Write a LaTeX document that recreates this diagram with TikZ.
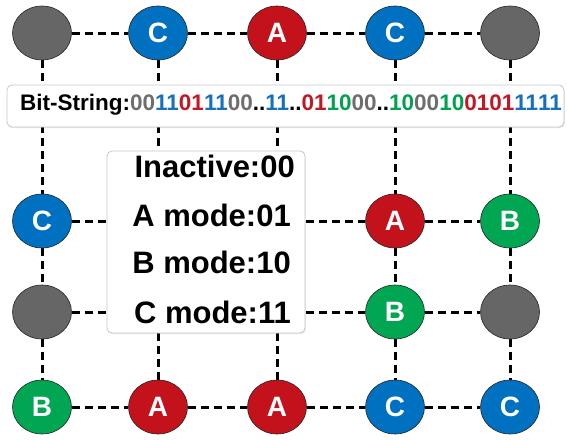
\documentclass[tikz,border=0pt]{standalone}
\usepackage{fontspec}
\setmainfont{Liberation Sans}
\usetikzlibrary{shapes.geometric,shadows}

\definecolor{modeGray}{RGB}{102,102,102}
\definecolor{modeBlue}{RGB}{0,112,192}
\definecolor{modeRed}{RGB}{196,18,28}
\definecolor{modeGreen}{RGB}{0,166,81}
\definecolor{bitGray}{RGB}{110,110,110}
\definecolor{bitBlue}{RGB}{22,112,188}
\definecolor{bitRed}{RGB}{192,24,36}
\definecolor{bitGreen}{RGB}{0,162,80}

\newcommand{\bitN}[1]{\textcolor{bitGray}{#1}}
\newcommand{\bitB}[1]{\textcolor{bitBlue}{#1}}
\newcommand{\bitR}[1]{\textcolor{bitRed}{#1}}
\newcommand{\bitG}[1]{\textcolor{bitGreen}{#1}}

\tikzset{
    BALL/.style={shape=ellipse, minimum width=59pt, minimum height=54pt,
        inner sep=0pt, draw=black!85, line width=0.6pt, text=white,
        font={\fontsize{28}{28}\selectfont\bfseries}},
    GRAY_BALL/.style={BALL, fill=modeGray},
    BLUE_BALL/.style={BALL, fill=modeBlue},
    RED_BALL/.style={BALL, fill=modeRed},
    GREEN_BALL/.style={BALL, fill=modeGreen},
    PANEL/.style={shape=rectangle, draw=black!22, fill=white, line width=0.8pt,
        rounded corners=5pt, inner sep=0pt,
        drop shadow={opacity=0.18, shadow xshift=0.8pt, shadow yshift=-1.2pt}},
    BITS/.style={inner sep=0pt, font={\fontsize{22.5}{22.5}\selectfont\bfseries}},
    LEGEND_LINE/.style={inner sep=0pt, anchor=east,
        font={\fontsize{31}{31}\selectfont\bfseries}},
    EDGE/.style={draw=black, line width=3pt, dash pattern=on 8pt off 5pt}
}
\pgfdeclarelayer{edgelayer}
\pgfdeclarelayer{nodelayer}
\pgfsetlayers{edgelayer,nodelayer,main}

\begin{document}
\begin{tikzpicture}[x=1pt, y=-1pt]
    \useasboundingbox (0, 0) rectangle (567, 439);
    \begin{pgfonlayer}{nodelayer}
        \node [GRAY_BALL] (1) at (42, 33) {};
        \node [BLUE_BALL] (2) at (158, 33) {C};
        \node [RED_BALL] (3) at (277, 33) {A};
        \node [BLUE_BALL] (4) at (395, 33) {C};
        \node [GRAY_BALL] (5) at (510, 33) {};
        \node [BLUE_BALL] (6) at (42, 221) {C};
        \node [RED_BALL] (7) at (395, 221) {A};
        \node [GREEN_BALL] (8) at (510, 221) {B};
        \node [GRAY_BALL] (9) at (42, 312) {};
        \node [GREEN_BALL] (10) at (395, 312) {B};
        \node [GRAY_BALL] (11) at (510, 312) {};
        \node [GREEN_BALL] (12) at (42, 407) {B};
        \node [RED_BALL] (13) at (158, 407) {A};
        \node [RED_BALL] (14) at (277, 407) {A};
        \node [BLUE_BALL] (15) at (395, 407) {C};
        \node [BLUE_BALL] (16) at (510, 407) {C};
    \end{pgfonlayer}
    \begin{pgfonlayer}{edgelayer}
        \draw[EDGE] (1) to (2);
        \draw[EDGE] (2) to (3);
        \draw[EDGE] (3) to (4);
        \draw[EDGE] (4) to (5);
        \draw[EDGE] (6) to (7);
        \draw[EDGE] (7) to (8);
        \draw[EDGE] (9) to (10);
        \draw[EDGE] (10) to (11);
        \draw[EDGE] (12) to (13);
        \draw[EDGE] (13) to (14);
        \draw[EDGE] (14) to (15);
        \draw[EDGE] (15) to (16);
        \draw[EDGE] (1) to (6);
        \draw[EDGE] (6) to (9);
        \draw[EDGE] (9) to (12);
        \draw[EDGE] (2) to (13);
        \draw[EDGE] (3) to (14);
        \draw[EDGE] (4) to (7);
        \draw[EDGE] (7) to (10);
        \draw[EDGE] (10) to (15);
        \draw[EDGE] (5) to (8);
        \draw[EDGE] (8) to (11);
        \draw[EDGE] (11) to (16);
    \end{pgfonlayer}
    % bit string bar
    \node [PANEL, minimum width=557pt, minimum height=42pt] (bar) at (285.5, 106) {};
    \node [BITS, anchor=west] (bits) at (20, 104.5) {Bit-String:\bitN{00}\bitB{11}\bitR{01}\bitB{11}\bitN{00}..\bitB{11}..\bitR{01}\bitG{10}\bitN{00}..\bitG{10}\bitN{00}\bitG{10}\bitR{01}\bitR{01}\bitB{11}\bitB{11}};
    % legend
    \node [PANEL, minimum width=198pt, minimum height=182pt] (legend) at (206, 242) {};
    \node [LEGEND_LINE] (l1) at (295, 166) {Inactive:00};
    \node [LEGEND_LINE] (l2) at (291, 215) {A mode:01};
    \node [LEGEND_LINE] (l3) at (291, 262) {B mode:10};
    \node [LEGEND_LINE] (l4) at (291, 312) {C mode:11};
\end{tikzpicture}
\end{document}
